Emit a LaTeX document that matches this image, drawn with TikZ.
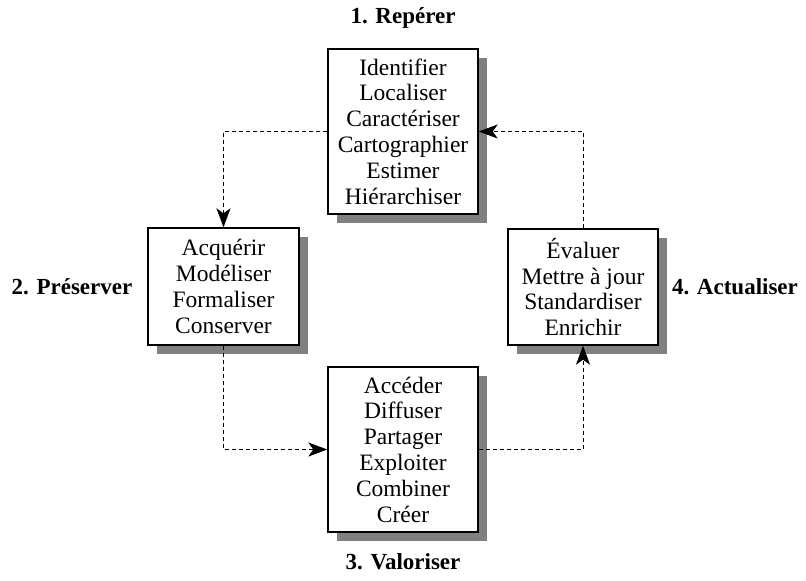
\documentclass[tikz,border=0pt]{standalone}
\usepackage{fontspec}
\setmainfont{Liberation Serif}
\usetikzlibrary{arrows.meta,shadows}
\begin{document}
\begin{tikzpicture}[x=1pt,y=-1pt,
  box/.style={draw=black,line width=1.4pt,fill=white,inner sep=0pt,align=center,
    font=\fontsize{23.5}{25.8}\selectfont,
    drop shadow={shadow xshift=8.5pt,shadow yshift=-8.5pt,fill=black!50,opacity=1}},
  lab/.style={font=\fontsize{23}{26}\selectfont\bfseries},
  conn/.style={draw=black,line width=0.8pt,dash pattern=on 4pt off 3pt,
    -{Stealth[length=19pt,width=14pt,inset=5pt]}}]
\useasboundingbox (0,0) rectangle (806,581);
\node[box,minimum width=150pt,minimum height=165pt] (top) at (403,131.5)
  {Identifier\\Localiser\\Caractériser\\Cartographier\\Estimer\\Hiérarchiser};
\node[box,minimum width=151pt,minimum height=117pt] (left) at (223.5,286.5)
  {Acquérir\\Modéliser\\Formaliser\\Conserver};
\node[box,minimum width=150pt,minimum height=116pt] (right) at (583,287)
  {Évaluer\\Mettre à jour\\Standardiser\\Enrichir};
\node[box,minimum width=150pt,minimum height=165pt] (bottom) at (403,449.5)
  {Accéder\\Diffuser\\Partager\\Exploiter\\Combiner\\Créer};
\node[lab] (l1) at (403,18) {1. Repérer};
\node[lab] (l2) at (72,287) {2. Préserver};
\node[lab] (l4) at (735,287) {4. Actualiser};
\node[lab] (l3) at (403,562) {3. Valoriser};
\draw[conn] (top.west) -| (left.north);
\draw[conn] (left.south) |- (bottom.west);
\draw[conn] (bottom.east) -| (right.south);
\draw[conn] (right.north) |- (top.east);
\end{tikzpicture}
\end{document}
